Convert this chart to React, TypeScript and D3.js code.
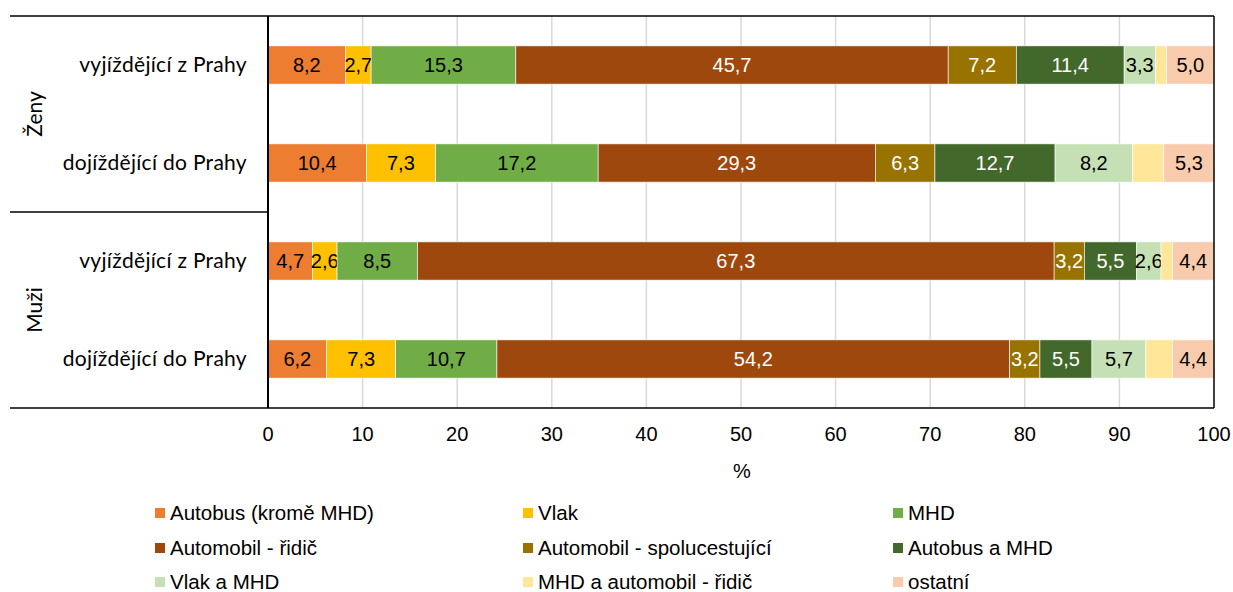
import React from "react";
import * as d3 from "d3";

const categories = [
  "vyjíždějící z Prahy",
  "dojíždějící do Prahy",
  "vyjíždějící z Prahy ",
  "dojíždějící do Prahy ",
];
const categoryLabels = [
  "vyjíždějící z Prahy",
  "dojíždějící do Prahy",
  "vyjíždějící z Prahy",
  "dojíždějící do Prahy",
];
const groups = ["Ženy", "Muži"];

const seriesNames = [
  "Autobus (kromě MHD)",
  "Vlak",
  "MHD",
  "Automobil - řidič",
  "Automobil - spolucestující",
  "Autobus a MHD",
  "Vlak a MHD",
  "MHD a automobil - řidič",
  "ostatní",
];
const seriesColors = [
  "#ED7D31",
  "#FFC000",
  "#70AD47",
  "#9E480E",
  "#997300",
  "#43682B",
  "#C5E0B4",
  "#FFE699",
  "#F8CBAD",
];
const labelColors = ["#000", "#000", "#000", "#fff", "#fff", "#fff", "#000", null, "#000"];

// values per category (rows) for each series (columns)
const zenyVyjizdejici = [8.2, 2.7, 15.3, 45.7, 7.2, 11.4, 3.3, 1.2, 5.0];
const zenyDojizdejici = [10.4, 7.3, 17.2, 29.3, 6.3, 12.7, 8.2, 3.3, 5.3];
const muziVyjizdejici = [4.7, 2.6, 8.5, 67.3, 3.2, 5.5, 2.6, 1.2, 4.4];
const muziDojizdejici = [6.2, 7.3, 10.7, 54.2, 3.2, 5.5, 5.7, 2.8, 4.4];
const values = [zenyVyjizdejici, zenyDojizdejici, muziVyjizdejici, muziDojizdejici];

const xTicks = [0, 10, 20, 30, 40, 50, 60, 70, 80, 90, 100];

const W = 1233;
const H = 592;
const plotLeft = 268;
const plotRight = 1214;
const plotTop = 16;
const plotBottom = 408;
const frameLeft = 10;

export default function App() {
  const x = d3.scaleLinear().domain([0, 100]).range([plotLeft, plotRight]);
  const y = d3
    .scaleBand<string>()
    .domain(categories)
    .range([plotTop, plotBottom])
    .paddingInner(0.61)
    .paddingOuter(0.305);

  const fmt = (v: number) => v.toFixed(1).replace(".", ",");
  const labelFont = "'Liberation Sans', Arial, sans-serif";
  const catFont = "Lato, 'Liberation Sans', sans-serif";

  const legendCols = [155, 523, 893];
  const legendRows = [513, 548, 582];

  return (
    <svg
      width={W}
      height={H}
      style={{ position: "absolute", left: 0, top: 0, background: "#fff" }}
    >
      {/* gridlines */}
      {xTicks.slice(1, -1).map((t) => (
        <line
          key={"g" + t}
          x1={x(t)}
          x2={x(t)}
          y1={plotTop}
          y2={plotBottom}
          stroke="#D9D9D9"
          strokeWidth={1.5}
        />
      ))}

      {/* bars */}
      {values.map((row, ci) => {
        let cum = 0;
        const yy = y(categories[ci]) as number;
        const bh = y.bandwidth();
        return (
          <g key={"c" + ci}>
            {row.map((v, si) => {
              const x0 = x(cum);
              cum += v;
              const x1 = x(cum);
              const lc = labelColors[si];
              return (
                <g key={"s" + si}>
                  <rect
                    x={x0}
                    y={yy}
                    width={x1 - x0}
                    height={bh}
                    fill={seriesColors[si]}
                    stroke="#fff"
                    strokeWidth={0.6}
                  />
                  {lc && (
                    <text
                      x={(x0 + x1) / 2}
                      y={yy + bh / 2}
                      dy="0.36em"
                      textAnchor="middle"
                      fontFamily={labelFont}
                      fontSize={20}
                      fill={lc}
                    >
                      {fmt(v)}
                    </text>
                  )}
                </g>
              );
            })}
          </g>
        );
      })}

      {/* frame */}
      <line x1={frameLeft} x2={plotRight} y1={plotTop} y2={plotTop} stroke="#000" strokeWidth={1.5} />
      <line x1={frameLeft} x2={plotRight} y1={plotBottom} y2={plotBottom} stroke="#000" strokeWidth={1.5} />
      <line x1={frameLeft} x2={plotLeft} y1={(plotTop + plotBottom) / 2} y2={(plotTop + plotBottom) / 2} stroke="#000" strokeWidth={1.5} />
      <line x1={plotLeft} x2={plotLeft} y1={plotTop} y2={plotBottom} stroke="#000" strokeWidth={2} />
      <line x1={plotRight} x2={plotRight} y1={plotTop} y2={plotBottom} stroke="#000" strokeWidth={1.5} />

      {/* category labels */}
      {categories.map((c, i) => (
        <text
          key={"cl" + i}
          x={247}
          y={(y(c) as number) + y.bandwidth() / 2}
          dy="0.35em"
          textAnchor="end"
          fontFamily={catFont}
          fontSize={21}
          letterSpacing={0.3}
          fill="#000"
        >
          {categoryLabels[i]}
        </text>
      ))}

      {/* group labels */}
      {groups.map((g, i) => {
        const cy = plotTop + ((plotBottom - plotTop) / 4) * (2 * i + 1);
        return (
          <text
            key={"gl" + i}
            transform={`translate(35,${cy}) rotate(-90)`}
            dy="0.35em"
            textAnchor="middle"
            fontFamily={catFont}
            fontSize={21}
            fill="#000"
          >
            {g}
          </text>
        );
      })}

      {/* x tick labels */}
      {xTicks.map((t) => (
        <text
          key={"t" + t}
          x={x(t)}
          y={434}
          dy="0.36em"
          textAnchor="middle"
          fontFamily={labelFont}
          fontSize={20}
          fill="#000"
        >
          {t}
        </text>
      ))}
      <text
        x={742}
        y={471}
        dy="0.36em"
        textAnchor="middle"
        fontFamily={labelFont}
        fontSize={20}
        fill="#000"
      >
        %
      </text>

      {/* legend */}
      {seriesNames.map((n, i) => {
        const cx = legendCols[i % 3];
        const cy = legendRows[Math.floor(i / 3)];
        return (
          <g key={"l" + i}>
            <rect x={cx} y={cy - 5} width={10} height={10} fill={seriesColors[i]} />
            <text
              x={cx + 15}
              y={cy}
              dy="0.36em"
              fontFamily={labelFont}
              fontSize={20.5}
              fill="#000"
            >
              {n}
            </text>
          </g>
        );
      })}
    </svg>
  );
}
